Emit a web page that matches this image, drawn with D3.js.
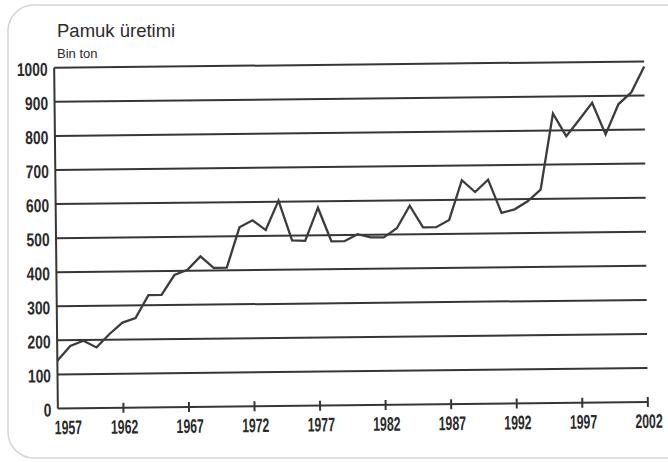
<!DOCTYPE html>
<html>
<head>
<meta charset="utf-8">
<script src="https://cdn.jsdelivr.net/npm/d3@7"></script>
<style>
  html, body { margin: 0; padding: 0; background: #ffffff; }
  svg { display: block; }
  .tick-label { font-family: "Liberation Sans", Arial, Helvetica, sans-serif; font-weight: bold; fill: #2b2b2b; }
</style>
</head>
<body>
<svg id="chart" width="668" height="462"></svg>
<script>
// Cotton production, thousand tonnes
const years = [1957, 1958, 1959, 1960, 1961, 1962, 1963, 1964, 1965, 1966,
               1967, 1968, 1969, 1970, 1971, 1972, 1973, 1974, 1975, 1976,
               1977, 1978, 1979, 1980, 1981, 1982, 1983, 1984, 1985, 1986,
               1987, 1988, 1989, 1990, 1991, 1992, 1993, 1994, 1995, 1996,
               1997, 1998, 1999, 2000, 2001, 2002];
const production = [140, 183, 198, 178, 217, 250, 263, 330, 330, 388,
                    403, 442, 408, 408, 526, 546, 517, 603, 486, 484,
                    581, 482, 482, 502, 492, 492, 518, 584, 520, 520,
                    541, 657, 622, 658, 560, 570, 593, 627, 850, 783,
                    831, 880, 787, 875, 910, 985];
const yTicks = [0, 100, 200, 300, 400, 500, 600, 700, 800, 900, 1000];
const xTicks = [1957, 1962, 1967, 1972, 1977, 1982, 1987, 1992, 1997, 2002];

const svg = d3.select("#chart");
const ink = "#363636";

// light rounded frame around the figure
svg.append("rect")
  .attr("x", 8).attr("y", 5)
  .attr("width", 700).attr("height", 453)
  .attr("rx", 26).attr("ry", 26)
  .attr("fill", "none")
  .attr("stroke", "#d6d6d6")
  .attr("stroke-width", 1.5);

svg.append("text")
  .attr("x", 57).attr("y", 37)
  .attr("font-family", "Liberation Sans, Arial, sans-serif")
  .attr("font-size", 18.5)
  .attr("fill", "#2b2b2b")
  .text("Pamuk üretimi");

svg.append("text")
  .attr("x", 57).attr("y", 58)
  .attr("font-family", "Liberation Sans, Arial, sans-serif")
  .attr("font-size", 13)
  .attr("fill", "#2b2b2b")
  .text("Bin ton");

const x = d3.scaleLinear().domain([1957, 2002]).range([56, 646]);
const y = d3.scaleLinear().domain([0, 1000]).range([405.3, 64.6]);

// the printed plot sits a little askew on the page
const g = svg.append("g").attr("transform", "rotate(-0.62 351 235)");

// horizontal grid lines
g.append("g")
  .selectAll("line")
  .data(yTicks)
  .join("line")
  .attr("x1", x(1957)).attr("x2", x(2002))
  .attr("y1", d => y(d)).attr("y2", d => y(d))
  .attr("stroke", ink)
  .attr("stroke-width", 2);

// left axis line
g.append("line")
  .attr("x1", x(1957)).attr("x2", x(1957))
  .attr("y1", y(0)).attr("y2", y(1000))
  .attr("stroke", ink).attr("stroke-width", 2);

// y labels, condensed bold figures
g.append("g")
  .selectAll("text")
  .data(yTicks)
  .join("text")
  .attr("class", "tick-label")
  .attr("transform", d => `translate(49.5,${y(d) + 7.8}) scale(0.75,1)`)
  .attr("text-anchor", "end")
  .attr("font-size", 18.5)
  .text(d => d);

// x tick marks crossing the base line
g.append("g")
  .selectAll("line")
  .data(xTicks.slice(1))
  .join("line")
  .attr("x1", d => x(d)).attr("x2", d => x(d))
  .attr("y1", y(0) - 5).attr("y2", y(0) + 5)
  .attr("stroke", ink).attr("stroke-width", 2);

// x labels, narrower condensed figures
g.append("g")
  .selectAll("text")
  .data(xTicks)
  .join("text")
  .attr("class", "tick-label")
  .attr("transform", (d, i) => `translate(${i === 0 ? x(d) - 3.3 : x(d) + 1},${y(0) + 25.8}) scale(0.63,1)`)
  .attr("text-anchor", (d, i) => i === 0 ? "start" : "middle")
  .attr("font-size", 19.5)
  .text(d => d);

// production line
const line = d3.line()
  .x((d, i) => x(years[i]))
  .y(d => y(d))
  .curve(d3.curveLinear);

g.append("path")
  .datum(production)
  .attr("d", line)
  .attr("fill", "none")
  .attr("stroke", "#3c3c3c")
  .attr("stroke-width", 2.3)
  .attr("stroke-linejoin", "miter");
</script>
</body>
</html>
